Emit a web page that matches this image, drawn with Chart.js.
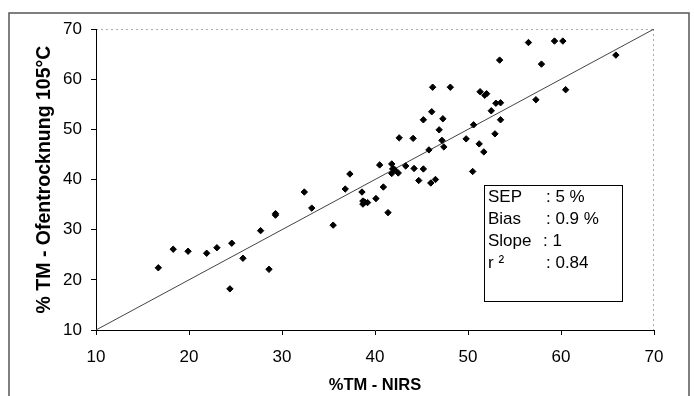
<!DOCTYPE html>
<html>
<head>
<meta charset="utf-8">
<script src="https://cdn.jsdelivr.net/npm/chart.js@4"></script>
<style>
  body { margin: 0; background: #fff; }
</style>
</head>
<body>
<canvas id="chart" width="694" height="396"></canvas>
<script>
// %TM measured by NIRS (x) vs oven drying at 105°C (y)
var nirs = [16.7, 18.3, 19.9, 21.9, 23.0, 24.6, 24.4, 25.8, 27.7, 28.6,
            29.3, 29.3, 32.4, 33.2, 35.5, 36.8, 37.3, 38.6, 38.7, 38.9,
            39.2, 38.7, 40.1, 40.5, 40.9, 41.4, 41.8, 41.9, 42.1, 41.8,
            42.5, 42.6, 43.3, 44.1, 44.2, 44.7, 45.2, 45.2, 45.8, 46.0,
            46.1, 46.2, 46.5, 46.9, 47.2, 47.3, 47.4, 48.1, 49.8, 50.5,
            50.6, 51.2, 51.7, 51.3, 51.8, 52.0, 52.5, 52.9, 53.0, 53.5,
            53.5, 53.4, 56.5, 57.3, 57.9, 59.3, 60.2, 60.5, 65.9];
var oven = [22.4, 26.1, 25.7, 25.3, 26.4, 27.3, 18.2, 24.3, 29.8, 22.1,
            33.2, 32.9, 37.5, 34.3, 30.9, 38.1, 41.1, 37.5, 35.7, 35.5,
            35.4, 35.1, 36.2, 42.9, 38.5, 33.4, 43.1, 42.1, 42.0, 41.2,
            41.3, 48.3, 42.7, 48.2, 42.2, 39.8, 51.9, 42.1, 45.9, 39.3,
            53.5, 58.4, 40.0, 49.9, 47.8, 52.1, 46.5, 58.4, 48.1, 41.6,
            50.9, 47.1, 45.5, 57.5, 56.8, 57.1, 53.7, 49.1, 55.2, 55.3,
            51.9, 63.8, 67.3, 55.9, 63.0, 67.6, 67.6, 57.9, 64.8];

// 1:1 line
var lineX = [10, 70];
var lineY = [10, 70];

var axisMin = 10, axisMax = 70, axisStep = 10;

var statLabels = ['SEP', 'Bias', 'Slope', 'r ²'];
var statValues = [': 5 %', ': 0.9 %', ': 1', ': 0.84'];

var fontFamily = '"Liberation Sans", Arial, Helvetica, sans-serif';

var points = nirs.map(function(v, i) { return {x: v, y: oven[i]}; });
var line = lineX.map(function(v, i) { return {x: v, y: lineY[i]}; });

// outer frame, faint plot border and the stats box
var extras = {
  id: 'extras',
  beforeDraw: function(chart) {
    var ctx = chart.ctx;
    ctx.save();
    ctx.fillStyle = '#fff';
    ctx.fillRect(0, 0, chart.width, chart.height);
    ctx.strokeStyle = '#555';
    ctx.lineWidth = 1.5;
    ctx.beginPath();
    ctx.moveTo(9, 400);
    ctx.lineTo(9, 13);
    ctx.lineTo(689, 13);
    ctx.lineTo(689, 400);
    ctx.stroke();
    var a = chart.chartArea;
    ctx.strokeStyle = '#aaa';
    ctx.lineWidth = 1;
    ctx.setLineDash([2, 3]);
    ctx.beginPath();
    ctx.moveTo(a.left, a.top + 0.5);
    ctx.lineTo(a.right, a.top + 0.5);
    ctx.moveTo(a.right - 0.5, a.top);
    ctx.lineTo(a.right - 0.5, a.bottom);
    ctx.stroke();
    ctx.restore();
  },
  afterDraw: function(chart) {
    var ctx = chart.ctx;
    ctx.save();
    ctx.strokeStyle = '#000';
    ctx.lineWidth = 1;
    ctx.fillStyle = '#fff';
    ctx.fillRect(484.5, 185.5, 138, 116);
    ctx.strokeRect(484.5, 185.5, 138, 116);
    ctx.fillStyle = '#000';
    ctx.font = '17px ' + fontFamily;
    ctx.textBaseline = 'alphabetic';
    for (var i = 0; i < statLabels.length; i++) {
      var yb = 202 + i * 22;
      ctx.fillText(statLabels[i], 488, yb);
      ctx.fillText(statValues[i], i === 2 ? 543 : 546, yb);
    }
    ctx.restore();
  }
};

var ctx = document.getElementById('chart').getContext('2d');
var chart = new Chart(ctx, {
  type: 'scatter',
  data: {
    datasets: [{
      label: 'Proben',
      data: points,
      pointStyle: 'rectRot',
      pointRadius: 3.2,
      backgroundColor: '#000',
      borderColor: '#000',
      borderWidth: 1
    }, {
      label: '1:1',
      data: line,
      showLine: true,
      pointRadius: 0,
      borderColor: '#444',
      borderWidth: 1
    }]
  },
  options: {
    responsive: false,
    animation: false,
    devicePixelRatio: 1,
    layout: { padding: { left: 0, right: 40, top: 29, bottom: 0 } },
    plugins: { legend: { display: false }, tooltip: { enabled: false } },
    scales: {
      x: {
        min: axisMin, max: axisMax,
        ticks: { stepSize: axisStep, color: '#000', padding: 12, maxRotation: 0,
                 font: { family: fontFamily, size: 17 } },
        grid: { drawOnChartArea: false, tickLength: 5, color: '#000' },
        border: { color: '#000', width: 1 },
        title: { display: true, text: '%TM - NIRS', color: '#000',
                 font: { family: fontFamily, size: 16.5, weight: 'bold' },
                 padding: { top: 0, bottom: 1 } },
        afterFit: function(s) { s.height = 66; }
      },
      y: {
        min: axisMin, max: axisMax,
        ticks: { stepSize: axisStep, color: '#000', padding: 9,
                 font: { family: fontFamily, size: 17 } },
        grid: { drawOnChartArea: false, tickLength: 5, color: '#000' },
        border: { color: '#000', width: 1 },
        title: { display: true, text: '% TM - Ofentrocknung 105°C', color: '#000',
                 font: { family: fontFamily, size: 19.5, weight: 'bold' },
                 padding: { top: 33, bottom: 0 } },
        afterFit: function(s) { s.width = 96; }
      }
    }
  },
  plugins: [extras]
});
</script>
</body>
</html>
